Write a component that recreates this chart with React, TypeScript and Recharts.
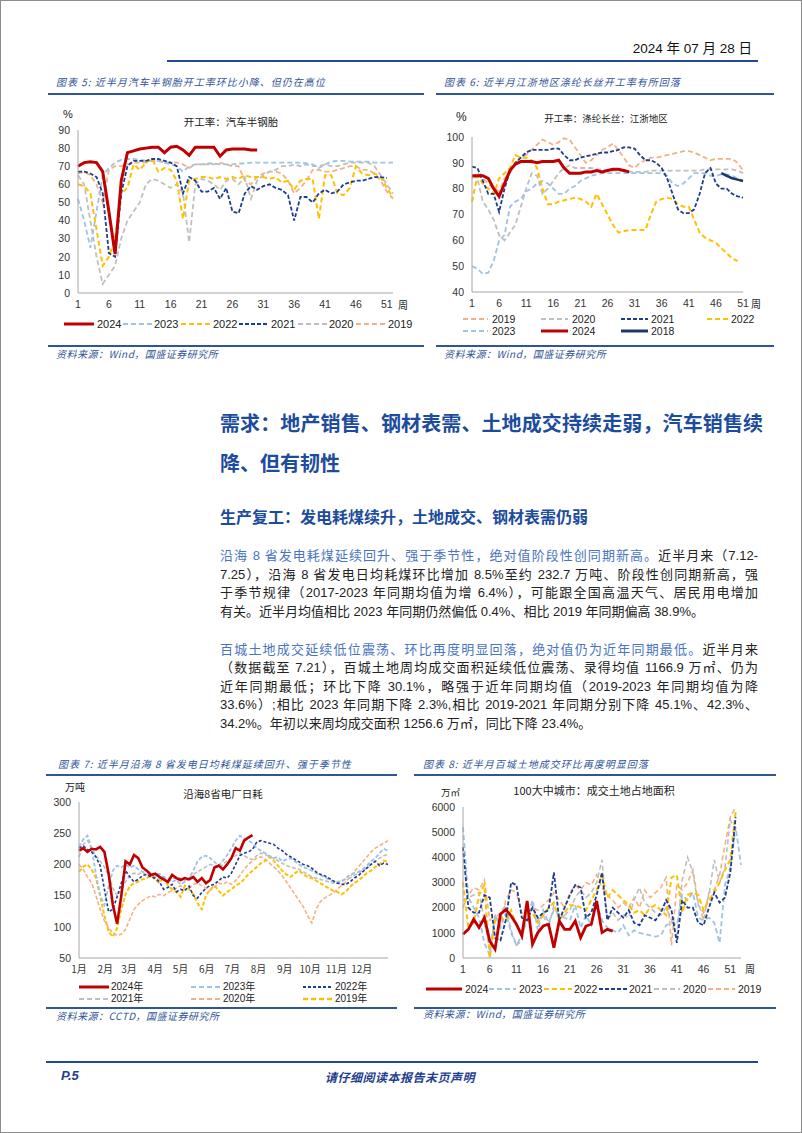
import React from 'react';
import { LineChart, Line, XAxis, YAxis } from 'recharts';

// ---------- colours ----------
const RED = '#c00000';
const LBLUE = '#9dc3e6';
const GOLD = '#ffc000';
const NAVY = '#1f3d8f';
const GRAY = '#bfbfbf';
const SALMON = '#f4b183';
const DNAVY = '#203864';
const TITLE_BLUE = '#2f5597';

// ---------- chart 5: 汽车半钢胎开工率 (weeks 1-52) ----------
const WEEKS52 = [1,2,3,4,5,6,7,8,9,10,11,12,13,14,15,16,17,18,19,20,21,22,23,24,25,26,27,28,29,30,31,32,33,34,35,36,37,38,39,40,41,42,43,44,45,46,47,48,49,50,51,52];
const C5_2024 = [70,72,72.5,72,67,45,21.5,62,77.5,78.5,79.5,80,80.5,80.5,77.5,80.5,81,79,76,80.5,80.5,80.5,80.5,75.5,79,79.5,79.5,79.5,79,79];
const C5_2023 = [52,40,25,45,65,69,72,73.5,74,74,73.5,73,73,73,72,71,70,67,70,71,71,71.5,71.5,71,71,71,71.5,71.5,72,72,72,72,72,72,72,72,72,71.5,71,69,71,72.5,73,73,72.5,72.5,72.5,72.5,72,72,72,72];
const C5_2022 = [60,59,55,35,15,20,30,55,58,71,68,72,74,67,69,68,62,41,62,63,64,64,63,64,63,64,63,65,64,64,64,63,64,61,62,57,62,63,63,41,65,65,55,54,58,70,66,65,66,64,58,53];
const C5_2021 = [67,67,66,64,55,22,20,55,70,73,73,73,74,74,73,72,70,55,64,62,56,56,58,52,58,45,44,55,59,57,59,60,58,57,54,40,53,53,50,55,57,55,56,60,61,62,62,63,64,64,63.5];
const C5_2020 = [65,60,40,20,5,10,15,30,40,45,50,60,63,62,60,58,60,55,28,60,63,62,60,57,62,63,60,64,52,62,65,67,68,70,70,71,70,71,70,70,71,70,70,71,72,72,72,72,70,65,60,55];
const C5_2019 = [66,67,65,60,50,68,70,70,71,72,72,72,73,73,72,72,72,71,69,71,71,71,71,72,71,70,70,62,60,64,66,67,67,66,62,55,58,62,68,68,67,67,68,69,70,70,68,68,66,62,56,52];

// ---------- chart 6: 涤纶长丝开工率 (weeks 1-51) ----------
const WEEKS51 = [1,2,3,4,5,6,7,8,9,10,11,12,13,14,15,16,17,18,19,20,21,22,23,24,25,26,27,28,29,30,31,32,33,34,35,36,37,38,39,40,41,42,43,44,45,46,47,48,49,50,51];
const C6_2024 = [85,85,85,84,80,77,82,87,89.5,90.5,90.5,90.5,90,90.5,90.5,90.5,91,88,86,86,86,86.5,86.5,87,86.5,87,87.5,87.5,87,86.5];
const C6_2021 = [88.5,88,83,78,78,71,80,87,90,92,94,95,95,95,95,95.5,95.5,93,91,91,92,92.5,93,93.5,94,94,94.5,95,96,96,95.5,93,91,91,90,88,84,78,72,70.5,70.5,72,78,86,88,82,80,80,78,77,76.5];
const C6_2018_WEEKS = [47,48,49,50,51];
const C6_2018 = [86,85,84,83.5,83];
const C6_2019 = [84,86,84,82,80,79,84,86,90,92,93,95,97,99,98,97,98,99.5,99,96,93,90,91,93,95,96,97.5,95,92,89,88,90,91,92,92,92.5,93,93.5,94,94.5,94.5,94,93,92,91,91.5,91.5,91.5,91.5,90,87];
const C6_2020 = [85,84,75,72,68,62,60,63,66,73,80,86,85,78,80,83,86,88,89,88,88,88,88,87.5,87.5,87,87,87,87,86.5,86.5,86.5,86.5,87,87,87,87,87,87,87,87,87,87,87.5,87.5,87.5,87.5,87.5,87.5,87,86];
const C6_2023 = [50,49,47,47.5,52,60,62,73,75,76,79,80,82,83,82,80,78,78,80,81,83,84,85,85.5,86,86,86,86,86,86,86,86,86,86,86,86,85,82,81,82,84,86,86,86,85,85,85.5,85.5,85,84,83];
const C6_2022 = [75,85,82,80,78,84,86,88,93,92,92,91,88,80,74,74,75,75.5,76,76.5,76,75,73,78,74,70,66,63,63.5,64,64,64,64,70,75,76,76.5,76,74,73,73,68,63,61,60,59,57,55,53,52];

// ---------- chart 7: 沿海8省电厂日耗 (day of year) ----------
const DAYS = [0,5,10,15,20,25,30,35,40,45,50,55,60,65,70,75,80,85,90,95,100,105,110,115,120,125,130,135,140,145,150,155,160,165,170,175,180,185,190,195,200,205,210,215,220,225,230,235,240,245,250,255,260,265,270,275,280,285,290,295,300,305,310,315,320,325,330,335,340,345,350,355,360,365];
const MONTH_TICKS = [0,31,59,90,120,151,181,212,243,273,304,334];
const MONTH_LABELS = ['1月','2月','3月','4月','5月','6月','7月','8月','9月','10月','11月','12月'];
const C7_2024 = [222,226,220,225,224,228,220,185,135,105,150,205,200,215,210,195,190,183,185,180,176,172,183,178,175,178,176,180,172,178,170,175,195,198,192,200,210,226,222,238,243,247];
const C7_2023 = [228,240,246,225,185,150,135,165,190,198,195,200,195,198,192,188,190,186,183,185,180,178,172,175,168,172,178,190,205,212,214,210,204,198,206,215,226,238,246,242,238,234,226,222,218,214,210,212,205,208,210,205,200,196,193,190,186,183,180,176,172,170,172,178,183,186,188,192,198,205,210,218,225,222];
const C7_2022 = [226,230,224,220,212,198,160,124,128,148,170,190,180,172,176,182,184,180,178,172,160,163,168,156,160,158,165,150,146,155,162,166,168,174,180,178,186,200,214,218,220,224,236,238,236,234,232,226,222,216,212,208,204,200,198,194,188,184,182,178,174,170,168,168,172,178,182,188,194,200,205,198,202,200];
const C7_2021 = [212,232,238,226,214,205,196,182,162,150,158,172,182,186,184,188,182,185,180,176,178,172,176,180,178,174,178,184,188,192,196,200,198,194,200,206,210,214,218,214,210,208,214,218,216,212,210,206,202,198,196,194,192,188,184,180,178,176,174,172,170,172,174,176,178,182,186,190,195,200,205,210,214,216];
const C7_2020 = [200,192,180,170,150,128,110,98,90,86,88,96,112,128,136,142,146,150,148,152,150,155,158,162,166,160,162,168,170,166,162,158,164,170,168,172,168,174,182,192,200,206,210,212,208,202,196,190,182,172,162,152,142,132,118,106,128,140,146,150,154,160,166,172,180,188,196,204,212,220,226,230,234,238];
const C7_2019 = [188,196,200,192,178,150,118,92,84,98,128,152,165,170,172,176,178,182,176,170,180,166,160,156,148,166,160,152,138,128,150,160,166,158,150,156,160,166,170,176,184,190,196,202,206,212,206,198,190,184,180,186,190,184,180,178,174,170,166,162,158,156,152,156,164,170,174,180,186,190,196,200,206,204];

// ---------- chart 8: 100大中城市成交土地占地面积 (weeks 1-53) ----------
const WEEKS53 = [1,2,3,4,5,6,7,8,9,10,11,12,13,14,15,16,17,18,19,20,21,22,23,24,25,26,27,28,29,30,31,32,33,34,35,36,37,38,39,40,41,42,43,44,45,46,47,48,49,50,51,52,53];
const C8_2024 = [940,1140,1540,1210,1600,680,350,1740,1930,1670,1340,880,2270,550,1010,1270,1340,410,1470,1140,1140,1470,810,1270,1340,2270,1010,1140,1070];
const C8_2023 = [5200,2400,2000,1600,600,100,1700,1200,1800,1000,500,900,1500,2300,1100,1900,1400,1900,1700,1600,1500,2100,1200,1700,1300,2200,1500,1200,1100,1000,1300,900,1100,1000,950,900,850,900,1300,1400,1300,2500,2300,2600,1600,1500,1600,1400,600,2900,3600,5200,3700];
const C8_2022 = [3000,1200,1400,2500,2900,0,1500,1600,1500,1900,1300,1000,1800,1800,1400,1700,2000,2200,1500,1800,2100,2100,2000,1900,2300,2700,3300,2400,2700,2500,2300,2100,1800,1900,1700,2000,2100,1900,1700,3200,3300,1800,2500,2600,2500,1900,2300,2600,3000,3500,3900,5800];
const C8_2021 = [4400,2000,1800,1800,2500,2400,800,700,1500,3000,2900,1600,1500,2000,1600,1800,1900,3400,1500,2000,2500,2900,2800,1600,1800,2500,3400,1500,2000,1800,1600,1900,1400,1300,1700,1600,1500,1800,2300,1900,600,2300,2000,2000,1400,1300,2000,2600,2200,2400,3400,5600];
const C8_2020 = [2300,2400,2500,2600,1500,300,1600,1800,2100,1100,500,700,1800,2000,1500,1700,1200,2100,1600,1700,1900,2400,2700,2400,2600,3000,3900,1500,1800,1500,1700,1600,2300,2800,2200,2000,1800,1700,2000,1500,900,3100,4000,3400,2100,1800,2500,3900,3000,3600,5500,5000];
const C8_2019 = [2000,2500,2800,2700,3100,1500,1700,1300,2300,2700,2600,1800,1600,2000,1900,2100,2300,2600,2300,2000,2600,2900,2700,3000,2900,3300,2800,2500,2300,2000,2200,2000,2400,2000,2700,2400,2600,2800,3200,500,2900,2700,3000,3500,2200,1500,2600,2700,3300,4500,5600,6000];

// ---------- helpers ----------
type Row = Record<string, number | null>;
function buildRows(xs: number[], series: Record<string, number[]>, xKey: string, offsets: Record<string, number[]> = {}): Row[] {
  return xs.map((x, i) => {
    const r: Row = { [xKey]: x };
    for (const k of Object.keys(series)) {
      if (offsets[k]) {
        const j = offsets[k].indexOf(x);
        r[k] = j >= 0 ? series[k][j] : null;
      } else {
        const v = series[k][i];
        r[k] = v === undefined ? null : v;
      }
    }
    return r;
  });
}

const LATIN = '"Liberation Sans", Arial, "Noto Sans CJK SC", sans-serif';
const CJK = '"Noto Sans CJK SC", "Noto Sans", sans-serif';
const MIX = '"Liberation Sans", "Noto Sans CJK SC", sans-serif';

type SDef = { key: string; color: string; dash?: string; width: number };

const AXIS_STROKE = '#a6a6a6';

function T(props: { x: number; y: number; size: number; children: React.ReactNode; color?: string; align?: 'left' | 'center' | 'right'; weight?: number | string; italic?: boolean; font?: string; ls?: number }) {
  const { x, y, size, children, color = '#222', align = 'left', weight = 400, italic = false, font = CJK, ls = 0 } = props;
  const lh = Math.round(size * 1.4);
  const base: React.CSSProperties = {
    position: 'absolute', top: y - lh / 2, height: lh, lineHeight: lh + 'px', fontSize: size,
    color, fontWeight: weight as any, fontStyle: italic ? 'italic' : 'normal', fontFamily: font, whiteSpace: 'nowrap', letterSpacing: ls,
  };
  if (align === 'left') return <div style={{ ...base, left: x }}>{children}</div>;
  if (align === 'right') return <div style={{ ...base, left: x - 500, width: 500, textAlign: 'right' }}>{children}</div>;
  return <div style={{ ...base, left: x - 300, width: 600, textAlign: 'center' }}>{children}</div>;
}

function HLine(props: { x1: number; x2: number; y: number; h?: number; color?: string }) {
  const { x1, x2, y, h = 2, color = TITLE_BLUE } = props;
  return <div style={{ position: 'absolute', left: x1, top: y - h / 2, width: x2 - x1, height: h, background: color }} />;
}

function Leg(props: { x: number; y: number; len: number; color: string; dash?: string; sw: number; label: string; tx: number; fs?: number; font?: string }) {
  const { x, y, len, color, dash, sw, label, tx, fs = 10.5, font = LATIN } = props;
  return (
    <>
      <svg style={{ position: 'absolute', left: x, top: y - 4, overflow: 'visible' }} width={len} height={8}>
        <line x1={0} y1={4} x2={len} y2={4} stroke={color} strokeWidth={sw} strokeDasharray={dash} />
      </svg>
      <T x={tx} y={y} size={fs} font={font} color="#222">{label}</T>
    </>
  );
}

function renderLines(defs: SDef[]) {
  return defs.map((s) => (
    <Line key={s.key} type="linear" dataKey={s.key} stroke={s.color} strokeWidth={s.width} strokeDasharray={s.dash}
      dot={false} activeDot={false} isAnimationActive={false} connectNulls={false} />
  ));
}

const tickStyle = { fontSize: 10.5, fill: '#333', fontFamily: LATIN };

// ---------- charts ----------
function Chart5() {
  const data = buildRows(WEEKS52, { s2019: C5_2019, s2020: C5_2020, s2023: C5_2023, s2022: C5_2022, s2021: C5_2021, s2024: C5_2024 }, 'w');
  const defs: SDef[] = [
    { key: 's2019', color: SALMON, dash: '5 3', width: 1.8 },
    { key: 's2020', color: GRAY, dash: '5 3', width: 1.8 },
    { key: 's2023', color: LBLUE, dash: '5 3', width: 1.8 },
    { key: 's2022', color: GOLD, dash: '5 3', width: 2 },
    { key: 's2021', color: NAVY, dash: '4 2', width: 1.8 },
    { key: 's2024', color: RED, width: 3 },
  ];
  return (
    <div style={{ position: 'absolute', left: 40, top: 100 }}>
      <LineChart width={370} height={220} data={data} margin={{ top: 29, right: 18, bottom: 8, left: 12 }}>
        <XAxis dataKey="w" type="category" interval={4} tickLine={false} stroke={AXIS_STROKE} tick={tickStyle} height={20} />
        <YAxis type="number" domain={[0, 90]} ticks={[0, 10, 20, 30, 40, 50, 60, 70, 80, 90]} width={25} tickLine={false} stroke={AXIS_STROKE} tick={tickStyle} />
        {renderLines(defs)}
      </LineChart>
    </div>
  );
}

function Chart6() {
  const data = buildRows(WEEKS51, { s2019: C6_2019, s2020: C6_2020, s2023: C6_2023, s2022: C6_2022, s2018: C6_2018, s2021: C6_2021, s2024: C6_2024 }, 'w', { s2018: C6_2018_WEEKS });
  const defs: SDef[] = [
    { key: 's2019', color: SALMON, dash: '5 3', width: 1.8 },
    { key: 's2020', color: GRAY, dash: '5 3', width: 1.8 },
    { key: 's2023', color: LBLUE, dash: '5 3', width: 1.8 },
    { key: 's2022', color: GOLD, dash: '5 3', width: 2 },
    { key: 's2018', color: DNAVY, width: 2.5 },
    { key: 's2021', color: NAVY, dash: '4 2', width: 1.8 },
    { key: 's2024', color: RED, width: 3 },
  ];
  return (
    <div style={{ position: 'absolute', left: 420, top: 110 }}>
      <LineChart width={340} height={210} data={data} margin={{ top: 26, right: 18, bottom: 9, left: 21 }}>
        <XAxis dataKey="w" type="category" interval={4} tickLine={false} stroke={AXIS_STROKE} tick={tickStyle} height={20} />
        <YAxis type="number" domain={[40, 100]} ticks={[40, 50, 60, 70, 80, 90, 100]} width={30} tickLine={false} stroke={AXIS_STROKE} tick={tickStyle} />
        {renderLines(defs)}
      </LineChart>
    </div>
  );
}

function Chart7() {
  const data = buildRows(DAYS, { s2019: C7_2019, s2020: C7_2020, s2021: C7_2021, s2023: C7_2023, s2022: C7_2022, s2024: C7_2024 }, 'd');
  const defs: SDef[] = [
    { key: 's2019', color: GOLD, dash: '4 2', width: 2 },
    { key: 's2020', color: SALMON, dash: '4 2', width: 1.6 },
    { key: 's2021', color: GRAY, dash: '4 2', width: 1.6 },
    { key: 's2023', color: LBLUE, dash: '4 2', width: 1.8 },
    { key: 's2022', color: NAVY, dash: '3 2', width: 1.6 },
    { key: 's2024', color: RED, width: 2.6 },
  ];
  return (
    <div style={{ position: 'absolute', left: 40, top: 780 }}>
      <LineChart width={370} height={205} data={data} margin={{ top: 21, right: 23, bottom: 8, left: 10 }}>
        <XAxis dataKey="d" type="number" domain={[0, 365]} ticks={MONTH_TICKS} tickFormatter={(v: number) => MONTH_LABELS[MONTH_TICKS.indexOf(v)] || ''}
          tickLine={false} stroke={AXIS_STROKE} tick={{ fontSize: 10, fill: '#333', fontFamily: CJK }} height={20} interval={0} />
        <YAxis type="number" domain={[50, 300]} ticks={[50, 100, 150, 200, 250, 300]} width={28} tickLine={false} stroke={AXIS_STROKE} tick={tickStyle} />
        {renderLines(defs)}
      </LineChart>
    </div>
  );
}

function Chart8() {
  const data = buildRows(WEEKS53, { s2019: C8_2019, s2020: C8_2020, s2023: C8_2023, s2022: C8_2022, s2021: C8_2021, s2024: C8_2024 }, 'w');
  const defs: SDef[] = [
    { key: 's2019', color: SALMON, dash: '5 3', width: 1.6 },
    { key: 's2020', color: GRAY, dash: '5 3', width: 1.6 },
    { key: 's2023', color: LBLUE, dash: '5 3', width: 1.8 },
    { key: 's2022', color: GOLD, dash: '5 3', width: 2 },
    { key: 's2021', color: NAVY, dash: '4 2', width: 1.8 },
    { key: 's2024', color: RED, width: 2.8 },
  ];
  return (
    <div style={{ position: 'absolute', left: 415, top: 785 }}>
      <LineChart width={345} height={200} data={data} margin={{ top: 21, right: 20, bottom: 8, left: 12 }}>
        <XAxis dataKey="w" type="category" interval={4} tickLine={false} stroke={AXIS_STROKE} tick={tickStyle} height={20} />
        <YAxis type="number" domain={[0, 6000]} ticks={[0, 1000, 2000, 3000, 4000, 5000, 6000]} width={35} tickLine={false} stroke={AXIS_STROKE} tick={tickStyle} />
        {renderLines(defs)}
      </LineChart>
    </div>
  );
}

// ---------- text helpers ----------
const HEAD_BLUE = '#1d4c9c';
const PARA_BLUE = '#4a74c0';

function JLine(props: { y: number; children: React.ReactNode; last?: boolean; size?: number; color?: string; weight?: number; x?: number; w?: number; font?: string }) {
  const { y, children, last = false, size = 13, color = '#222', weight = 400, x = 219, w = 538, font = MIX } = props;
  const lh = 20;
  return (
    <div style={{
      position: 'absolute', left: x, top: y - lh / 2, width: w, height: lh, lineHeight: lh + 'px', fontSize: size, color,
      fontWeight: weight, fontFamily: font, whiteSpace: 'nowrap', textAlign: last ? 'left' : 'justify', textAlignLast: last ? 'left' : 'justify',
    } as React.CSSProperties}>{children}</div>
  );
}

export default function App() {
  return (
    <div style={{ position: 'absolute', left: 0, top: 0, width: 802, height: 1133, boxSizing: 'border-box', border: '1px solid #8c8c8c', background: '#fff', overflow: 'hidden' }}>
      {/* header */}
      <T x={751} y={47} size={13.5} align="right" font={MIX} color="#111">2024 年 07 月 28 日</T>
      <HLine x1={166} x2={757} y={60} h={2.5} color="#23489a" />

      {/* figure 5 & 6 titles */}
      <T x={55} y={81} size={10} italic color={TITLE_BLUE} ls={1}>图表 5: 近半月汽车半钢胎开工率环比小降、但仍在高位</T>
      <HLine x1={47} x2={423} y={93} h={2} />
      <T x={443} y={81} size={10} italic color={TITLE_BLUE} ls={1}>图表 6: 近半月江浙地区涤纶长丝开工率有所回落</T>
      <HLine x1={435} x2={773} y={93} h={2} />

      {/* chart 5 */}
      <T x={62} y={113} size={11} font={LATIN} color="#222">%</T>
      <T x={230} y={120} size={10.5} align="center" color="#222">开工率：汽车半钢胎</T>
      <Chart5 />
      <T x={397} y={304} size={10} color="#222">周</T>
      <Leg x={63} y={323} len={30} color={RED} sw={3} label="2024" tx={96} fs={11} />
      <Leg x={122} y={323} len={29} color={LBLUE} dash="5 3" sw={2} label="2023" tx={153} fs={11} />
      <Leg x={180} y={323} len={29} color={GOLD} dash="5 3" sw={2} label="2022" tx={212} fs={11} />
      <Leg x={238} y={323} len={29} color={NAVY} dash="4 2" sw={2} label="2021" tx={270} fs={11} />
      <Leg x={297} y={323} len={29} color={GRAY} dash="5 3" sw={2} label="2020" tx={328} fs={11} />
      <Leg x={355} y={323} len={29} color={SALMON} dash="5 3" sw={2} label="2019" tx={387} fs={11} />
      <HLine x1={47} x2={423} y={345} h={1.5} />
      <T x={55} y={353} size={10} italic color={TITLE_BLUE} ls={0.5}>资料来源：Wind，国盛证券研究所</T>

      {/* chart 6 */}
      <T x={455} y={116} size={12} font={LATIN} color="#222">%</T>
      <T x={605} y={117} size={9.5} align="center" color="#222">开工率：涤纶长丝：江浙地区</T>
      <Chart6 />
      <T x={750} y={303} size={10} color="#222">周</T>
      <Leg x={462} y={318} len={25} color={SALMON} dash="5 3" sw={2} label="2019" tx={491} fs={10.5} />
      <Leg x={540} y={318} len={27} color={GRAY} dash="5 3" sw={2} label="2020" tx={571} fs={10.5} />
      <Leg x={620} y={318} len={27} color={NAVY} dash="4 2" sw={2} label="2021" tx={650} fs={10.5} />
      <Leg x={706} y={318} len={21} color={GOLD} dash="5 3" sw={2} label="2022" tx={730} fs={10.5} />
      <Leg x={462} y={330} len={25} color={LBLUE} dash="5 3" sw={2} label="2023" tx={491} fs={10.5} />
      <Leg x={540} y={330} len={27} color={RED} sw={3} label="2024" tx={571} fs={10.5} />
      <Leg x={620} y={330} len={27} color={DNAVY} sw={3} label="2018" tx={650} fs={10.5} />
      <HLine x1={435} x2={773} y={345} h={1.5} />
      <T x={443} y={353} size={10} italic color={TITLE_BLUE} ls={0.5}>资料来源：Wind，国盛证券研究所</T>

      {/* body text */}
      <JLine y={421.5} size={20} weight={700} color={HEAD_BLUE} w={543} font={CJK}>需求：地产销售、钢材表需、土地成交持续走弱，汽车销售续</JLine>
      <JLine y={462} size={20} weight={700} color={HEAD_BLUE} last font={CJK}>降、但有韧性</JLine>
      <JLine y={515} size={16} weight={700} color={HEAD_BLUE} last font={CJK}>生产复工：发电耗煤续升，土地成交、钢材表需仍弱</JLine>

      <JLine y={555}><span style={{ color: PARA_BLUE }}>沿海 8 省发电耗煤延续回升、强于季节性，绝对值阶段性创同期新高。</span>近半月来（7.12-</JLine>
      <JLine y={573.5}>7.25），沿海 8 省发电日均耗煤环比增加 8.5%至约 232.7 万吨、阶段性创同期新高，强</JLine>
      <JLine y={592}>于季节规律（2017-2023 年同期均值为增 6.4%），可能跟全国高温天气、居民用电增加</JLine>
      <JLine y={610.5} last>有关。近半月均值相比 2023 年同期仍然偏低 0.4%、相比 2019 年同期偏高 38.9%。</JLine>

      <JLine y={648.5}><span style={{ color: PARA_BLUE }}>百城土地成交延续低位震荡、环比再度明显回落，绝对值仍为近年同期最低。</span>近半月来</JLine>
      <JLine y={667}>（数据截至 7.21），百城土地周均成交面积延续低位震荡、录得均值 1166.9 万㎡、仍为</JLine>
      <JLine y={685.5}>近年同期最低；环比下降 30.1%，略强于近年同期均值（2019-2023 年同期均值为降</JLine>
      <JLine y={704}>33.6%）;相比 2023 年同期下降 2.3%,相比 2019-2021 年同期分别下降 45.1%、42.3%、</JLine>
      <JLine y={722.5} last>34.2%。年初以来周均成交面积 1256.6 万㎡，同比下降 23.4%。</JLine>

      {/* figure 7 & 8 titles */}
      <T x={57} y={763} size={10} italic color={TITLE_BLUE} ls={1}>图表 7: 近半月沿海 8 省发电日均耗煤延续回升、强于季节性</T>
      <HLine x1={45} x2={396} y={774} h={2} />
      <T x={422} y={763} size={10} italic color={TITLE_BLUE} ls={1}>图表 8: 近半月百城土地成交环比再度明显回落</T>
      <HLine x1={413} x2={775} y={774} h={2} />

      {/* chart 7 */}
      <T x={64} y={786} size={10} color="#222">万吨</T>
      <T x={222} y={792} size={10.5} align="center" color="#222">沿海8省电厂日耗</T>
      <Chart7 />
      <Leg x={78} y={986} len={30} color={RED} sw={3} label="2024年" tx={110} fs={10} font={MIX} />
      <Leg x={190} y={986} len={30} color={LBLUE} dash="5 3" sw={2} label="2023年" tx={222} fs={10} font={MIX} />
      <Leg x={302} y={986} len={30} color={NAVY} dash="3 2" sw={2} label="2022年" tx={334} fs={10} font={MIX} />
      <Leg x={78} y={998} len={30} color={GRAY} dash="5 3" sw={2} label="2021年" tx={110} fs={10} font={MIX} />
      <Leg x={190} y={998} len={30} color={SALMON} dash="5 3" sw={2} label="2020年" tx={222} fs={10} font={MIX} />
      <Leg x={302} y={998} len={30} color={GOLD} dash="5 3" sw={2.5} label="2019年" tx={334} fs={10} font={MIX} />
      <HLine x1={45} x2={396} y={1007} h={1.5} />
      <T x={55} y={1015} size={10} italic color={TITLE_BLUE} ls={0.5}>资料来源：CCTD，国盛证券研究所</T>

      {/* chart 8 */}
      <T x={440} y={791} size={9.5} color="#222">万㎡</T>
      <T x={593} y={789} size={11} align="center" color="#222">100大中城市：成交土地占地面积</T>
      <Chart8 />
      <T x={744} y={968} size={10} color="#222">周</T>
      <Leg x={425} y={988} len={36} color={RED} sw={3} label="2024" tx={464} fs={10.5} />
      <Leg x={488} y={988} len={27} color={LBLUE} dash="5 3" sw={2} label="2023" tx={518} fs={10.5} />
      <Leg x={543} y={988} len={28} color={GOLD} dash="5 3" sw={2} label="2022" tx={573} fs={10.5} />
      <Leg x={598} y={988} len={28} color={NAVY} dash="4 2" sw={2} label="2021" tx={628} fs={10.5} />
      <Leg x={653} y={988} len={26} color={GRAY} dash="5 3" sw={2} label="2020" tx={682} fs={10.5} />
      <Leg x={707} y={988} len={27} color={SALMON} dash="5 3" sw={2} label="2019" tx={737} fs={10.5} />
      <HLine x1={413} x2={775} y={1007} h={1.5} />
      <T x={422} y={1013} size={10} italic color={TITLE_BLUE} ls={0.5}>资料来源：Wind，国盛证券研究所</T>

      {/* footer */}
      <HLine x1={45} x2={757} y={1061} h={2.5} color="#23489a" />
      <T x={60} y={1075} size={13} italic weight={700} font={MIX} color="#1f3f8f">P.5</T>
      <T x={399} y={1075} size={12} italic weight={700} align="center" color="#1f3f8f" ls={0.5}>请仔细阅读本报告末页声明</T>
    </div>
  );
}
